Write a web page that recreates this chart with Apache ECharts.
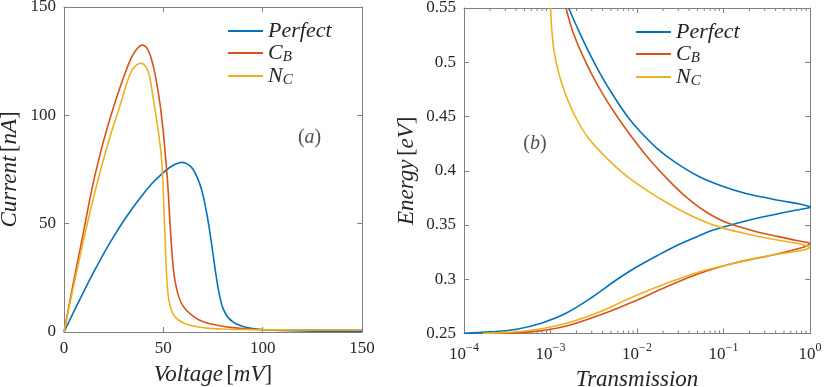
<!DOCTYPE html>
<html>
<head>
<meta charset="utf-8">
<script src="https://cdn.jsdelivr.net/npm/echarts@6/dist/echarts.min.js"></script>
<style>
html,body{margin:0;padding:0;background:#fff;}
#c{width:824px;height:387px;}
</style>
</head>
<body>
<div id="c"></div>
<script>
// ---------- Panel (a): I-V curves ----------
const V_perfect = [0,5,10,15,20,25,30,35,40,45,50,53,56,58,59.5,61,63,65,67,69,70.5,72,73,74,75,76,77,78,79,80,81.5,83,85,88,92,97,103,115,130,150];
const I_perfect = [0,9.5,18.8,27.7,36.2,44,51.2,57.8,63.8,69.2,73.6,75.8,77.4,78.1,78.3,78,77,75,71.5,66.5,61,54,48.5,42.5,36,29.5,23.5,18.2,14,11,8.2,6.3,4.7,3.2,2.1,1.4,0.9,0.55,0.4,0.3];
const V_cb = [0,2.5,5,7.5,10,12.5,15,17.5,20,22.5,25,27.5,30,32,34,36,38,39.5,41,42.5,44,45.5,47,48.5,50,51,52,52.5,53,53.5,54,54.5,55,56,57.3,59,61.6,65,68.3,72,77,85,95,110,150];
const I_cb = [0,12,24,35.5,47,59,70,79.5,88.5,96.5,104,111,117.5,122.5,126.8,129.8,131.8,132.4,131.8,129.8,126,120.5,113,104,92,82,71,64,56,48,41,35,29.5,23,17.7,13.5,10,7.3,5.4,4.2,3.1,2.0,1.3,1.0,0.9];
const V_nc = [0,2.5,5,7.5,10,12.5,15,17.5,20,22.5,25,27.5,30,32,33.5,35,36.5,38,39,40,41.5,43,44.8,46.5,48,49,49.5,50,50.5,51,51.5,52,52.5,53,54,55,56.5,58,60,63,67,72,80,90,100,120,150];
const I_nc = [0,11,22,32.5,43,53,62.5,71.5,80,88,95.5,102.5,110,116,119.5,121.8,123.2,123.9,124,123.6,122,118.2,108.5,98.5,89,81,74,64,52,40,29,21,16.5,13.8,10.2,8.1,6.4,5.3,4.3,3.2,2.4,1.8,1.4,1.15,1.0,0.95,0.9];

// ---------- Panel (b): Energy vs Transmission ----------
const E_perfect = [0.55,0.53,0.51,0.49,0.47,0.45,0.435,0.42,0.408,0.395,0.386,0.379,0.3755,0.3725,0.3693,0.3675,0.3665,0.3657,0.3638,0.3615,0.3576,0.3525,0.3454,0.3395,0.3325,0.3225,0.3115,0.2993,0.2839,0.2686,0.26,0.2539,0.2515,0.2502];
const T_perfect = [1.62e-3,2.09e-3,2.75e-3,3.72e-3,5.25e-3,7.76e-3,1.12e-2,1.74e-2,2.75e-2,5.13e-2,9.55e-2,0.182,0.295,0.451,0.759,0.933,1.0,0.955,0.703,0.501,0.289,0.158,0.0762,0.0501,0.0313,0.0178,0.01,5.75e-3,3.09e-3,1.51e-3,8.13e-4,4.07e-4,2.0e-4,1e-4];
const E_cb = [0.55,0.53,0.51,0.49,0.47,0.45,0.43,0.41,0.39,0.375,0.362,0.352,0.3445,0.3395,0.3355,0.334,0.3332,0.3322,0.33,0.3239,0.3195,0.3147,0.3055,0.2931,0.2793,0.267,0.2569,0.2517,0.2502];
const T_cb = [1.51e-3,1.78e-3,2.24e-3,2.95e-3,4.07e-3,5.89e-3,8.91e-3,1.41e-2,2.40e-2,3.80e-2,6.31e-2,0.110,0.224,0.417,0.724,0.912,0.989,0.977,0.871,0.451,0.251,0.13,0.0535,0.022,9.04e-3,3.72e-3,1.53e-3,6.31e-4,2.51e-4];
const E_nc = [0.55,0.53,0.51,0.49,0.47,0.45,0.43,0.41,0.395,0.38,0.368,0.357,0.3485,0.3415,0.3362,0.3325,0.3305,0.3295,0.3283,0.3263,0.3214,0.3183,0.3145,0.307,0.2962,0.2839,0.2701,0.2594,0.2532,0.251,0.2502];
const T_nc = [1.0e-3,1.035e-3,1.10e-3,1.245e-3,1.50e-3,1.93e-3,2.75e-3,4.68e-3,7.59e-3,1.41e-2,2.51e-2,4.68e-2,8.71e-2,0.191,0.417,0.776,0.933,0.977,0.966,0.767,0.316,0.2,0.13,0.0535,0.022,9.04e-3,3.72e-3,1.53e-3,6.31e-4,3.16e-4,1.66e-4];

// ---------- labels ----------
const seriesNames = ['Perfect','CB','NC'];
const legendLabels = {Perfect:'{i|Perfect}', CB:'{i|C}{s|B}', NC:'{i|N}{s|C}'};
const logDecades = [-4,-3,-2,-1,0];
const minorMantissas = [2,3,4,5,6,7,8,9];
const annotA = {text:'a', x:123.6, y:89.5};
const annotB = {text:'b', x:6.6e-4, y:0.4245};

const colors = ['#0072BD','#D95319','#EDB120'];
const SERIF = "'Liberation Serif','Times New Roman',serif";
const AX = '#808080';
const TXT = '#262626';

function zip(a,b){return a.map((v,i)=>[v,b[i]]);}

const richName = {
  i:{fontFamily:SERIF,fontStyle:'italic',fontSize:23,color:TXT},
  n:{fontFamily:SERIF,fontSize:23,color:TXT}
};
const richLegend = {
  i:{fontFamily:SERIF,fontStyle:'italic',fontSize:22,color:TXT,lineHeight:24},
  s:{fontFamily:SERIF,fontStyle:'italic',fontSize:15,color:TXT,lineHeight:24,verticalAlign:'bottom',padding:[8,0,0,0]}
};

function boxAxis(type,grid,pos,extra){
  return Object.assign({
    type:type, gridIndex:grid, position:pos,
    axisLine:{show:true,onZero:false,lineStyle:{color:AX,width:1}},
    axisTick:{show:true,inside:true,length:5,lineStyle:{color:AX}},
    axisLabel:{show:false},
    splitLine:{show:false}
  },extra||{});
}

const tickLabel = {show:true,fontFamily:SERIF,fontSize:17,color:TXT,margin:8};

const minorData = [];
logDecades.slice(0,-1).forEach(d=>minorMantissas.forEach(m=>minorData.push([m*Math.pow(10,d),0.25])));

function curve(name,idx,xi,yi,data){
  return {name:name,type:'line',xAxisIndex:xi,yAxisIndex:yi,data:data,smooth:0.35,
    showSymbol:false,symbol:'none',lineStyle:{color:colors[idx],width:1.6},itemStyle:{color:colors[idx]},z:3};
}
function annot(a,xi,yi){
  return {type:'scatter',xAxisIndex:xi,yAxisIndex:yi,data:[[a.x,a.y]],symbolSize:0,silent:true,
    label:{show:true,position:'inside',formatter:'{n|(}{i|'+a.text+'}{n|)}',
      rich:{n:{fontFamily:SERIF,fontSize:20,color:TXT},i:{fontFamily:SERIF,fontStyle:'italic',fontSize:20,color:TXT}}}};
}

const option = {
  animation:false,
  backgroundColor:'#fff',
  grid:[
    {left:64,right:462,top:7,bottom:55,outerBoundsMode:'none',containLabel:false},
    {left:464,right:14,top:8,bottom:53.5,outerBoundsMode:'none',containLabel:false}
  ],
  legend:[
    {data:seriesNames,orient:'vertical',left:223,top:15,itemWidth:35,itemHeight:2,icon:'rect',itemGap:0,
     formatter:n=>legendLabels[n],textStyle:{rich:richLegend}},
    {data:seriesNames,orient:'vertical',left:631,top:16,itemWidth:35,itemHeight:2,icon:'rect',itemGap:0,
     formatter:n=>legendLabels[n],textStyle:{rich:richLegend}}
  ],
  xAxis:[
    boxAxis('value',0,'bottom',{min:0,max:150,interval:50,
      axisLabel:Object.assign({},tickLabel),
      name:'{i|Voltage} {n|[}{i|mV}{n|]}',nameLocation:'middle',nameGap:31,nameTextStyle:{rich:richName}}),
    boxAxis('value',0,'top',{min:0,max:150,interval:50}),
    boxAxis('log',1,'bottom',{min:1e-4,max:1,logBase:10,
      axisLabel:Object.assign({},tickLabel,{formatter:v=>'{b|10}{s|'+String(Math.round(Math.log10(v))).replace('-','\u2212')+'}',
        rich:{b:{fontFamily:SERIF,fontSize:17,color:TXT,lineHeight:22,verticalAlign:'bottom'},
              s:{fontFamily:SERIF,fontSize:12,color:TXT,lineHeight:22,verticalAlign:'top'}}}),
      name:'{i|Transmission}',nameLocation:'middle',nameGap:32,nameTextStyle:{rich:richName}}),
    boxAxis('log',1,'top',{min:1e-4,max:1,logBase:10})
  ],
  yAxis:[
    boxAxis('value',0,'left',{min:0,max:150,interval:50,
      axisLabel:Object.assign({},tickLabel),
      name:'{i|Current} {n|[}{i|nA}{n|]}',nameLocation:'middle',nameGap:43,nameRotate:90,nameTextStyle:{rich:richName}}),
    boxAxis('value',0,'right',{min:0,max:150,interval:50}),
    boxAxis('value',1,'left',{min:0.25,max:0.55,interval:0.05,
      axisLabel:Object.assign({},tickLabel,{formatter:v=>String(+v.toFixed(2))}),
      name:'{i|Energy} {n|[}{i|eV}{n|]}',nameLocation:'middle',nameGap:46,nameRotate:90,nameTextStyle:{rich:richName}}),
    boxAxis('value',1,'right',{min:0.25,max:0.55,interval:0.05})
  ],
  series:[
    curve('Perfect',0,0,0,zip(V_perfect,I_perfect)),
    curve('CB',1,0,0,zip(V_cb,I_cb)),
    curve('NC',2,0,0,zip(V_nc,I_nc)),
    curve('Perfect',0,2,2,zip(T_perfect,E_perfect)),
    curve('CB',1,2,2,zip(T_cb,E_cb)),
    curve('NC',2,2,2,zip(T_nc,E_nc)),
    {type:'custom',xAxisIndex:2,yAxisIndex:2,data:minorData,silent:true,clip:false,
     renderItem:function(params,api){
       const x = api.coord([api.value(0),0.25])[0];
       const yb = api.coord([1,0.25])[1];
       const yt = api.coord([1,0.55])[1];
       return {type:'group',children:[
         {type:'line',shape:{x1:x,y1:yb,x2:x,y2:yb-3},style:{stroke:AX,lineWidth:1}},
         {type:'line',shape:{x1:x,y1:yt,x2:x,y2:yt+3},style:{stroke:AX,lineWidth:1}}
       ]};
     }},
    annot(annotA,0,0),
    annot(annotB,2,2)
  ]
};

const chart = echarts.init(document.getElementById('c'),null,{renderer:'canvas'});
chart.setOption(option);
</script>
</body>
</html>
